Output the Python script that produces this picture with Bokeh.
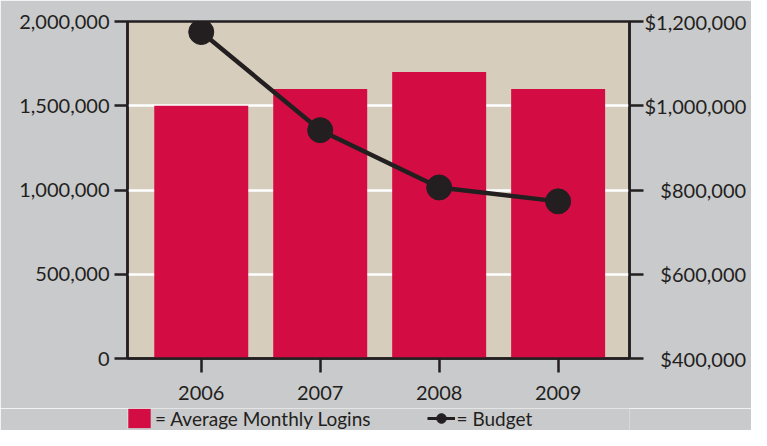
from bokeh.plotting import figure
from bokeh.layouts import column
from bokeh.models import (Range1d, LinearAxis, NumeralTickFormatter, FixedTicker,
                          Legend, LegendItem, ColumnDataSource)
from bokeh.embed import file_html
from bokeh.resources import INLINE

years = ["2006", "2007", "2008", "2009"]
logins = [1500000, 1600000, 1700000, 1600000]
budget = [1175000, 942000, 806000, 773000]
left_ticks = [0, 500000, 1000000, 1500000, 2000000]
right_ticks = [400000, 600000, 800000, 1000000, 1200000]
right_labels = ["\u2007\u2008$400,000", "\u2007\u2008$600,000", "\u2007\u2008$800,000",
                "$1,000,000", "$1,200,000"]

GRAY = "#c9cacc"
BEIGE = "#d6cdbc"
RED = "#d30d43"
INK = "#231f20"
FONT = "Lato"

xs = list(range(len(years)))
src = ColumnDataSource(dict(x=xs, logins=logins, budget=budget))

p = figure(frame_width=502, frame_height=337, output_backend="svg", toolbar_location=None,
           x_range=Range1d(-0.62, 3.6), y_range=Range1d(0, 2000000),
           min_border_left=127, min_border_top=21, min_border_right=122, min_border_bottom=50)
p.background_fill_color = BEIGE
p.border_fill_color = GRAY
p.outline_line_color = INK
p.outline_line_width = 2.5

p.extra_y_ranges = {"budget": Range1d(400000, 1200000)}

p.vbar(x="x", top="logins", width=0.79, source=src, fill_color=RED, line_color=None)
p.line(x="x", y="budget", source=src, y_range_name="budget", line_color=INK, line_width=4.5)
p.scatter(x="x", y="budget", source=src, y_range_name="budget", size=25,
          fill_color=INK, line_color=INK)

p.xgrid.grid_line_color = None
p.ygrid.grid_line_color = "white"
p.ygrid.grid_line_width = 2.5
p.ygrid.ticker = FixedTicker(ticks=left_ticks[1:-1])

def style(ax):
    ax.axis_line_color = INK
    ax.axis_line_width = 2.5
    ax.major_tick_line_color = INK
    ax.major_tick_line_width = 2.5
    ax.major_tick_in = 0
    ax.major_tick_out = 13
    ax.minor_tick_line_color = None
    ax.major_label_text_font = FONT
    ax.major_label_text_font_size = "20px"
    ax.major_label_text_color = INK

yl = p.yaxis[0]
yl.ticker = FixedTicker(ticks=left_ticks)
yl.formatter = NumeralTickFormatter(format="0,0")
style(yl)
yl.major_label_standoff = 5

yr = LinearAxis(y_range_name="budget", ticker=FixedTicker(ticks=right_ticks))
yr.major_label_overrides = {t: l for t, l in zip(right_ticks, right_labels)}
style(yr)
yr.major_tick_out = 14
yr.major_label_standoff = 1
p.add_layout(yr, "right")

xa = p.xaxis[0]
xa.ticker = FixedTicker(ticks=xs)
xa.major_label_overrides = {i: y for i, y in zip(xs, years)}
style(xa)
xa.major_tick_out = 14
xa.major_label_standoff = 13

# legend strip below the chart
q = figure(width=751, height=22, output_backend="svg", toolbar_location=None,
           x_range=Range1d(0, 1), y_range=Range1d(0, 1),
           x_axis_location=None, y_axis_location=None, min_border=0)
q.background_fill_color = GRAY
q.border_fill_color = GRAY
q.outline_line_color = None
q.xgrid.grid_line_color = None
q.ygrid.grid_line_color = None

lg_bar = q.vbar(x="x", top="logins", width=0.79, source=src, fill_color=RED, line_color=None,
                visible=False)
lg_line = q.line(x="x", y="budget", source=src, line_color=INK, line_width=3, visible=False)
lg_pt = q.scatter(x="x", y="budget", source=src, size=9, fill_color=INK, line_color=INK,
                  visible=False)

legend = Legend(items=[LegendItem(label="= Average Monthly Logins", renderers=[lg_bar]),
                       LegendItem(label="= Budget", renderers=[lg_line, lg_pt])],
                orientation="horizontal", location=(-2, 0),
                glyph_width=28, glyph_height=24, label_standoff=2, spacing=56,
                margin=0, padding=0, background_fill_alpha=0, border_line_color=None,
                label_text_font=FONT, label_text_font_size="19px", label_text_color=INK,
                label_height=22)
q.add_layout(legend, "center")

open("out.html", "w").write(file_html(column(p, q, spacing=0), INLINE))
